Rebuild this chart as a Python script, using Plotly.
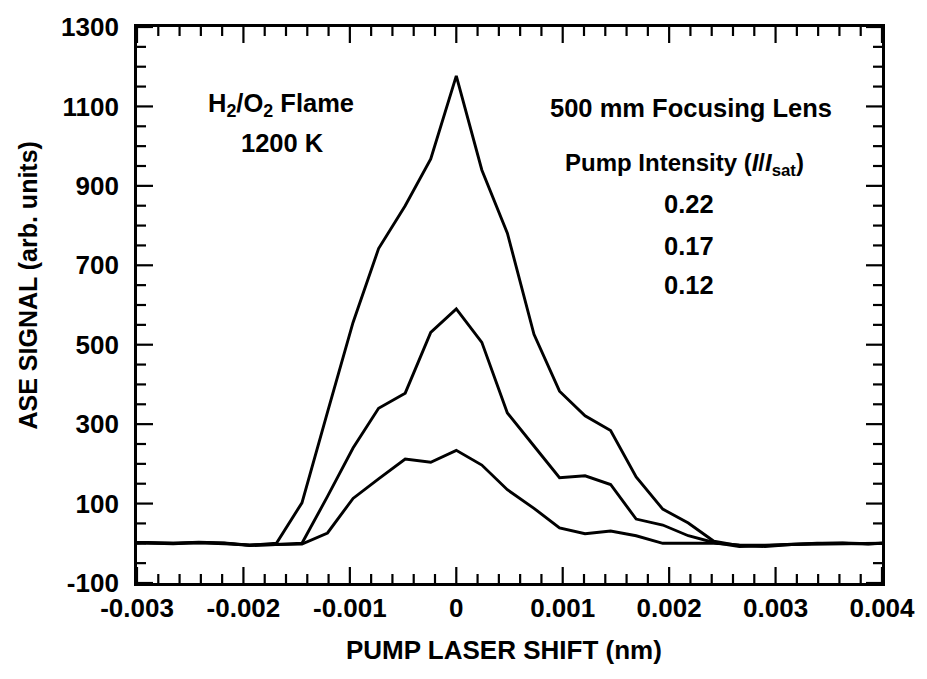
import plotly.graph_objects as go

# ---- data ----
shift_nm = [-0.0030, -0.00290, -0.00266, -0.00242, -0.00218, -0.00194, -0.00169,
            -0.00145, -0.00121, -0.00097, -0.00073, -0.00048, -0.00024, 0.0,
            0.00024, 0.00048, 0.00073, 0.00097, 0.00121, 0.00145, 0.00169,
            0.00194, 0.00218, 0.00242, 0.00266, 0.00290, 0.00315, 0.00339,
            0.00363, 0.00387, 0.0040]

ase_022 = [2, 2, 0, 3, 1, -5, 0,
           102, 330, 556, 742, 850, 968, 1177,
           940, 781, 526, 383, 321, 284, 167,
           86, 51, 5, -6, -8, -3, 0,
           0, -2, 0]

ase_017 = [1, 0, -1, 2, 0, -6, -2,
           0, 118, 240, 340, 378, 531, 590,
           506, 328, 245, 165, 170, 148, 61,
           46, 19, 2, -8, -6, -2, -1,
           1, -1, 0]

ase_012 = [0, 1, 0, 1, -1, -4, -3,
           -2, 26, 113, 162, 212, 204, 234,
           197, 135, 88, 39, 24, 31, 19,
           0, 0, 0, -4, -5, -3, -2,
           0, 0, 0]

series_names = ["0.22", "0.17", "0.12"]

# tick values and labels as printed (plain hyphen minus)
x_tickvals = [-0.003, -0.002, -0.001, 0, 0.001, 0.002, 0.003, 0.004]
x_ticktext = ["-0.003", "-0.002", "-0.001", "0", "0.001", "0.002", "0.003", "0.004"]
y_tickvals = [-100, 100, 300, 500, 700, 900, 1100, 1300]
y_ticktext = ["-100", "100", "300", "500", "700", "900", "1100", "1300"]
x_minor_per_major = 5     # minor tick every 0.0002
y_minor_per_major = 4     # minor tick every 50

X_RANGE = [-0.003, 0.004]
Y_RANGE = [-100, 1300]

FONT = "Liberation Sans, Arial, Helvetica, sans-serif"

fig = go.Figure()
for name, ys in zip(series_names, [ase_022, ase_017, ase_012]):
    fig.add_trace(go.Scatter(x=shift_nm, y=ys, mode="lines", name=name,
                             line=dict(color="black", width=2.9),
                             showlegend=False))

axis_common = dict(
    showline=True, linecolor="black", linewidth=2.8, mirror=True,
    ticks="", showgrid=False, zeroline=False,
    tickfont=dict(family=FONT, size=26, color="black", weight="bold"),
)
fig.update_xaxes(range=X_RANGE, tickmode="array", tickvals=x_tickvals,
                 ticktext=x_ticktext, **axis_common)
fig.update_yaxes(range=Y_RANGE, tickmode="array", tickvals=y_tickvals,
                 ticktext=y_ticktext, ticklabelstandoff=10, **axis_common)

# ---- inside tick marks on all four sides (drawn as pixel-sized shapes) ----
MAJOR_LEN, MINOR_LEN, TICK_W = 16, 9, 2.2
tick_line = dict(color="black", width=TICK_W)

def sub_ticks(vals, n):
    out = []
    for a, b in zip(vals[:-1], vals[1:]):
        for k in range(1, n):
            out.append(a + (b - a) * k / n)
    return out

x_ticks = [(v, MAJOR_LEN) for v in x_tickvals] + \
          [(v, MINOR_LEN) for v in sub_ticks(x_tickvals, x_minor_per_major)]
y_ticks = [(v, MAJOR_LEN) for v in y_tickvals] + \
          [(v, MINOR_LEN) for v in sub_ticks(y_tickvals, y_minor_per_major)]

for v, ln in x_ticks:
    for anchor, sign in ((0, 1), (1, -1)):
        fig.add_shape(type="line", xref="x", yref="paper", ysizemode="pixel",
                      yanchor=anchor, x0=v, x1=v, y0=0, y1=sign * ln,
                      line=tick_line, layer="above")
for v, ln in y_ticks:
    for anchor, sign in ((0, 1), (1, -1)):
        fig.add_shape(type="line", xref="paper", yref="y", xsizemode="pixel",
                      xanchor=anchor, y0=v, y1=v, x0=0, x1=sign * ln,
                      line=tick_line, layer="above")

ann_font = dict(family=FONT, size=25.5, color="black", weight="bold")
annotations = [
    dict(text="H<sub>2</sub>/O<sub>2</sub> Flame", x=-0.00165, y=1103),
    dict(text="1200 K", x=-0.00163, y=1009),
    dict(text="500 mm Focusing Lens", x=0.00221, y=1096),
    dict(text="Pump Intensity (<i>I</i>/<i>I</i><sub>sat</sub>)", x=0.00214, y=955,
         font=dict(family=FONT, size=24, color="black", weight="bold")),
    dict(text="0.22", x=0.00219, y=855),
    dict(text="0.17", x=0.00219, y=749),
    dict(text="0.12", x=0.00219, y=650),
]
for a in annotations:
    a.setdefault("font", ann_font)
    fig.add_annotation(xref="x", yref="y", showarrow=False,
                       xanchor="center", yanchor="middle", **a)

# axis titles
fig.add_annotation(text="PUMP LASER SHIFT (nm)", xref="paper", yref="paper",
                   x=0.493, y=0, yshift=-67, xanchor="center", yanchor="middle",
                   showarrow=False, font=dict(family=FONT, size=26, color="black", weight="bold"))
fig.add_annotation(text="ASE SIGNAL (arb. units)", xref="paper", yref="paper",
                   x=0, xshift=-109, y=0.535, xanchor="center", yanchor="middle",
                   textangle=-90, showarrow=False,
                   font=dict(family=FONT, size=25, color="black", weight="bold"))

fig.update_layout(
    width=927, height=679,
    margin=dict(l=137, r=39, t=17, b=96),
    paper_bgcolor="white", plot_bgcolor="white",
)

fig.write_html("out.html")
